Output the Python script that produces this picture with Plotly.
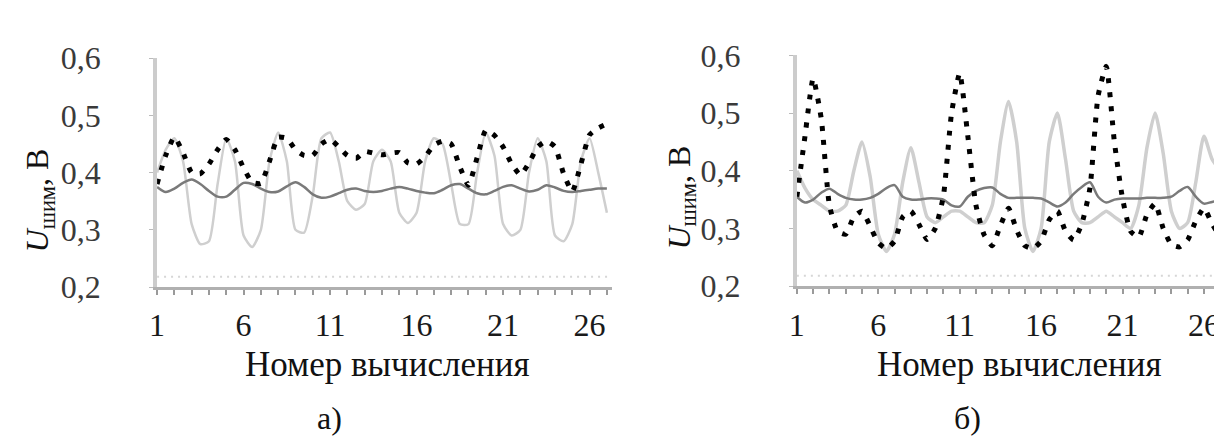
import plotly.graph_objects as go

# ---- data ----
x_steps = [1, 1.5, 2, 2.5, 3, 3.5, 4, 4.5, 5, 5.5, 6, 6.5, 7, 7.5, 8, 8.5, 9, 9.5, 10,
           10.5, 11, 11.5, 12, 12.5, 13, 13.5, 14, 14.5, 15, 15.5, 16, 16.5, 17, 17.5,
           18, 18.5, 19, 19.5, 20, 20.5, 21, 21.5, 22, 22.5, 23, 23.5, 24, 24.5, 25,
           25.5, 26, 26.5, 27]

# chart a)
a_light = [0.40, 0.44, 0.46, 0.42, 0.31, 0.275, 0.28, 0.38, 0.46, 0.42, 0.29, 0.27, 0.30,
           0.42, 0.47, 0.42, 0.30, 0.295, 0.36, 0.46, 0.47, 0.42, 0.35, 0.335, 0.345, 0.42,
           0.44, 0.42, 0.33, 0.312, 0.33, 0.42, 0.46, 0.45, 0.38, 0.31, 0.31, 0.40, 0.47,
           0.43, 0.31, 0.29, 0.30, 0.40, 0.46, 0.42, 0.29, 0.28, 0.31, 0.42, 0.46, 0.40, 0.33]
a_dark = [0.375, 0.366, 0.372, 0.382, 0.388, 0.38, 0.368, 0.358, 0.358, 0.37, 0.382, 0.38,
          0.372, 0.366, 0.367, 0.376, 0.383, 0.375, 0.362, 0.356, 0.358, 0.364, 0.37, 0.372,
          0.368, 0.366, 0.368, 0.372, 0.375, 0.372, 0.368, 0.365, 0.364, 0.37, 0.378, 0.38,
          0.372, 0.364, 0.362, 0.368, 0.375, 0.378, 0.372, 0.367, 0.37, 0.378, 0.374, 0.368,
          0.366, 0.368, 0.37, 0.372, 0.372]
a_black = [0.38, 0.43, 0.462, 0.435, 0.40, 0.398, 0.415, 0.44, 0.458, 0.44, 0.408, 0.383,
           0.381, 0.42, 0.462, 0.46, 0.44, 0.43, 0.43, 0.45, 0.458, 0.445, 0.43, 0.425,
           0.437, 0.434, 0.431, 0.434, 0.435, 0.417, 0.415, 0.428, 0.448, 0.455, 0.45, 0.41,
           0.378, 0.426, 0.474, 0.465, 0.445, 0.415, 0.396, 0.417, 0.445, 0.455, 0.445, 0.398,
           0.367, 0.415, 0.466, 0.478, 0.485]

# chart б)
b_light = [0.40, 0.37, 0.35, 0.34, 0.33, 0.33, 0.34, 0.40, 0.45, 0.39, 0.29, 0.26, 0.29,
           0.38, 0.44, 0.38, 0.32, 0.31, 0.32, 0.33, 0.33, 0.32, 0.31, 0.31, 0.34, 0.45,
           0.52, 0.45, 0.30, 0.26, 0.30, 0.45, 0.50, 0.42, 0.33, 0.31, 0.31, 0.32, 0.33,
           0.32, 0.31, 0.30, 0.34, 0.44, 0.50, 0.43, 0.33, 0.30, 0.31, 0.38, 0.46, 0.42, 0.40]
b_dark = [0.355, 0.345, 0.35, 0.362, 0.369, 0.36, 0.353, 0.35, 0.35, 0.353, 0.36, 0.37,
          0.375, 0.355, 0.35, 0.35, 0.352, 0.352, 0.35, 0.34, 0.338, 0.355, 0.365, 0.37,
          0.371, 0.36, 0.353, 0.353, 0.353, 0.353, 0.352, 0.345, 0.338, 0.345, 0.36, 0.372,
          0.38, 0.355, 0.345, 0.35, 0.352, 0.352, 0.352, 0.353, 0.353, 0.353, 0.355, 0.365,
          0.372, 0.355, 0.343, 0.346, 0.348]
b_black = [0.355, 0.46, 0.56, 0.49, 0.34, 0.295, 0.29, 0.32, 0.33, 0.304, 0.275, 0.265,
           0.278, 0.32, 0.33, 0.307, 0.281, 0.30, 0.356, 0.50, 0.569, 0.46, 0.34, 0.289,
           0.27, 0.305, 0.335, 0.297, 0.27, 0.265, 0.278, 0.315, 0.33, 0.295, 0.28, 0.308,
           0.37, 0.53, 0.581, 0.45, 0.352, 0.295, 0.285, 0.324, 0.343, 0.30, 0.272, 0.268,
           0.28, 0.313, 0.335, 0.308, 0.285]

base_x = [1, 27.3]
base_y = [0.218, 0.218]

x_tickvals = [1, 6, 11, 16, 21, 26]
x_labels = ["1", "6", "11", "16", "21", "26"]
y_ticks = [0.2, 0.3, 0.4, 0.5, 0.6]
y_labels = ["0,2", "0,3", "0,4", "0,5", "0,6"]

# ---- figure ----
W, H = 1222, 445
FONT = "'Liberation Serif', 'DejaVu Serif', 'Times New Roman', serif"

fig = go.Figure()


def add_chart(xa, ya, light, dark, black, light_w, dash):
    fig.add_trace(go.Scatter(x=base_x, y=base_y, mode="lines", xaxis=xa, yaxis=ya,
                             line=dict(color="#d6d6d6", width=2, dash="2px,5px"),
                             hoverinfo="skip"))
    fig.add_trace(go.Scatter(x=x_steps, y=light, mode="lines", xaxis=xa, yaxis=ya,
                             line=dict(color="#cfcfcf", width=light_w, shape="spline",
                                       smoothing=0.6)))
    fig.add_trace(go.Scatter(x=x_steps, y=dark, mode="lines", xaxis=xa, yaxis=ya,
                             line=dict(color="#7a7a7a", width=2.5, shape="spline",
                                       smoothing=0.8)))
    fig.add_trace(go.Scatter(x=x_steps, y=black, mode="lines", xaxis=xa, yaxis=ya,
                             line=dict(color="#000000", width=5, dash=dash,
                                       shape="spline", smoothing=0.5)))


add_chart("x", "y", a_light, a_dark, a_black, 2.5, "5px,9px")
add_chart("x2", "y2", b_light, b_dark, b_black, 3.5, "5px,9px")

xcommon = dict(tickmode="array", tickvals=x_tickvals, ticktext=x_labels, tickangle=0,
               showline=True, linecolor="#b0b0b0", linewidth=3,
               ticks="outside", ticklen=5, tickwidth=2, tickcolor="#9a9a9a",
               minor=dict(tick0=1, dtick=1, ticks="outside", ticklen=5, tickwidth=2,
                          tickcolor="#9a9a9a", showgrid=False),
               showgrid=False, zeroline=False, ticklabelstandoff=3,
               tickfont=dict(family=FONT, size=32, color="#1a1a1a"))
ycommon = dict(range=[0.2, 0.6], tickmode="array", tickvals=y_ticks, ticktext=y_labels,
               showline=True, linecolor="#cccccc", linewidth=4,
               ticks="outside", ticklen=4, tickwidth=1, tickcolor="#bbbbbb",
               showgrid=False, zeroline=False, ticklabelstandoff=42,
               tickfont=dict(family=FONT, size=32, color="#3a3a3a"))

fig.update_layout(
    width=W, height=H, margin=dict(l=0, r=0, t=0, b=0),
    paper_bgcolor="white", plot_bgcolor="white", showlegend=False,
    font=dict(family=FONT),
    xaxis=dict(domain=[142 / W, 600 / W], range=[1, 27.3], anchor="y", **xcommon),
    yaxis=dict(domain=[1 - 284 / H, 1 - 35 / H], anchor="x", **ycommon),
    xaxis2=dict(domain=[786 / W, 1.0], range=[1, 27.6], anchor="y2", **xcommon),
    yaxis2=dict(domain=[1 - 283 / H, 1 - 32 / H], anchor="x2", **ycommon),
)

title_font = dict(family=FONT, size=35, color="#111111")
ann_font = dict(family=FONT, size=32, color="#111111")
anns = [
    dict(text="Номер вычисления", x=374 / W, y=1 - 368 / H, font=title_font),
    dict(text="Номер вычисления", x=1010 / W, y=1 - 368 / H, font=title_font),
    dict(text="а)", x=316 / W, y=1 - 427 / H, font=ann_font),
    dict(text="б)", x=958 / W, y=1 - 427 / H, font=ann_font),
]
for a in anns:
    fig.add_annotation(xref="paper", yref="paper", showarrow=False,
                       xanchor="center", yanchor="middle", **a)

ytitle = "<i>U</i><sub>шим</sub>, В"
fig.add_annotation(text=ytitle, xref="paper", yref="paper", x=24 / W, y=1 - 190 / H,
                   textangle=-90, showarrow=False, xanchor="center", yanchor="middle",
                   font=dict(family=FONT, size=32, color="#111111"))
fig.add_annotation(text=ytitle, xref="paper", yref="paper", x=670 / W, y=1 - 187 / H,
                   textangle=-90, showarrow=False, xanchor="center", yanchor="middle",
                   font=dict(family=FONT, size=32, color="#111111"))

fig.write_html("out.html")
